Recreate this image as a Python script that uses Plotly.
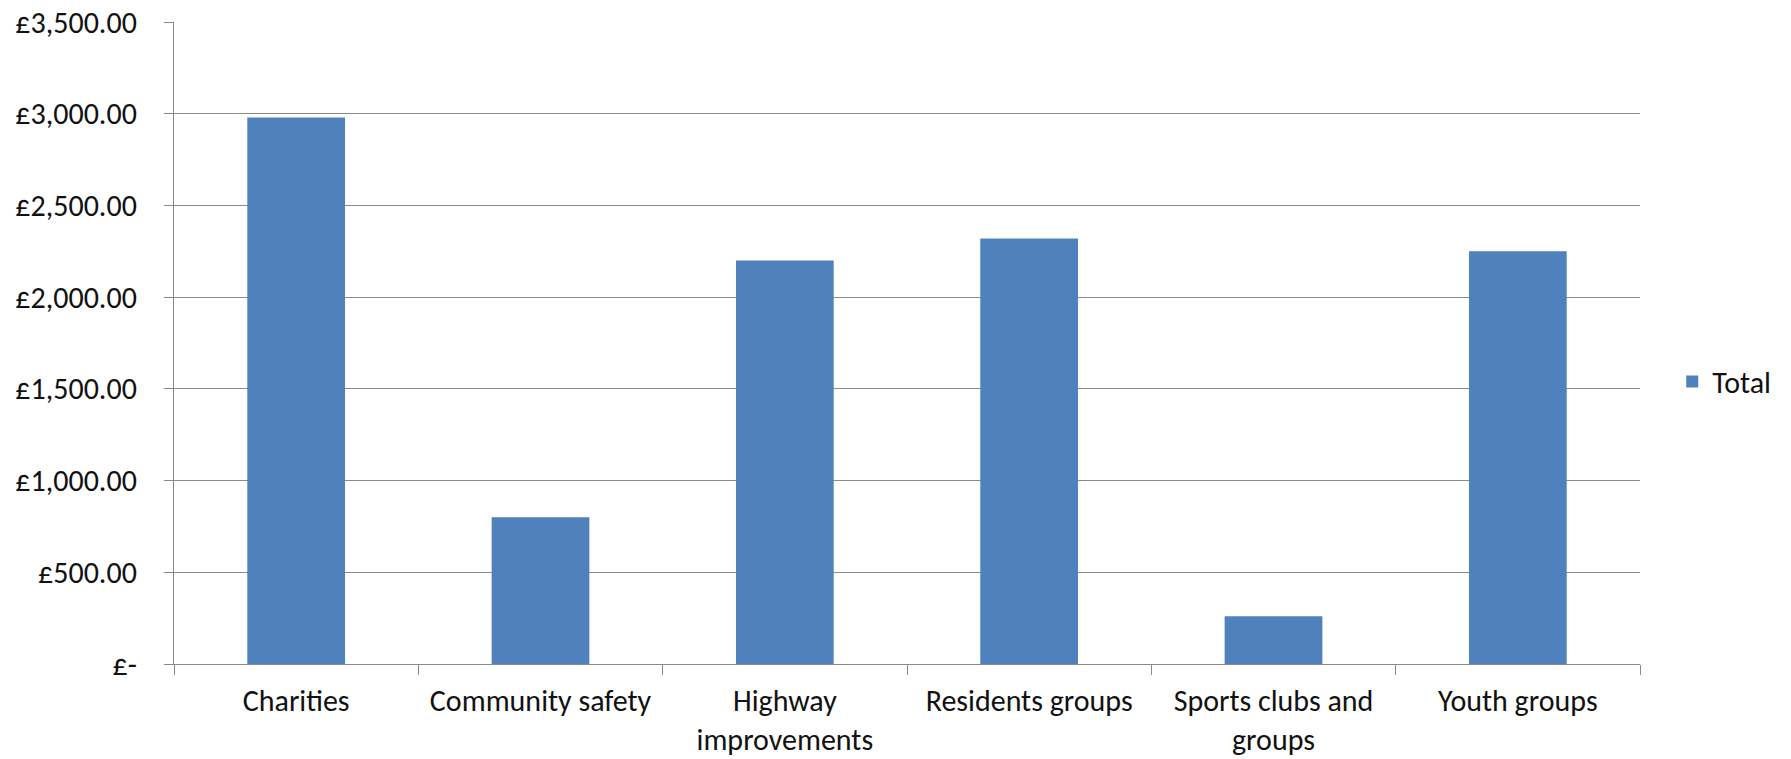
import plotly.graph_objects as go

categories = ["Charities", "Community safety", "Highway<br>improvements",
              "Residents groups", "Sports clubs and<br>groups", "Youth groups"]
totals = [2980, 800, 2200, 2320, 260, 2250]
series_name = "Total"

y_tick_vals = [0, 500, 1000, 1500, 2000, 2500, 3000, 3500]
y_tick_text = ["£-", "£500.00", "£1,000.00", "£1,500.00", "£2,000.00",
               "£2,500.00", "£3,000.00", "£3,500.00"]

FONT = "Carlito, Calibri, Lato, sans-serif"
GRID = "#8A8A8A"
TEXT = "#111111"

fig = go.Figure()
fig.add_trace(go.Bar(
    x=categories, y=totals, name=series_name,
    marker=dict(color="#4F81BD", line=dict(width=0)),
    showlegend=True,
))

fig.update_layout(
    width=1791, height=759,
    margin=dict(l=174, r=151, t=22, b=95, pad=0, autoexpand=False),
    paper_bgcolor="white", plot_bgcolor="white",
    font=dict(family=FONT, size=30, color=TEXT),
    bargap=0.6,
    showlegend=True,
    legend=dict(x=1.022, xanchor="left", y=0.44, yanchor="middle",
                font=dict(family=FONT, size=30, color=TEXT),
                itemwidth=30, bgcolor="rgba(0,0,0,0)"),
    xaxis=dict(
        type="category", showgrid=False, showline=True, linecolor=GRID, linewidth=1.3,
        ticks="outside", ticklen=10, tickcolor=GRID, tickwidth=1.3,
        tickson="boundaries", ticklabelstandoff=10,
        tickfont=dict(family=FONT, size=30, color=TEXT),
    ),
    yaxis=dict(
        range=[0, 3500], tickvals=y_tick_vals, ticktext=y_tick_text,
        showgrid=True, gridcolor=GRID, gridwidth=1.3, zeroline=False,
        showline=True, linecolor=GRID, linewidth=1.3,
        ticks="outside", ticklen=9, tickcolor=GRID, tickwidth=1.3,
        ticklabelstandoff=21,
        tickfont=dict(family=FONT, size=30, color=TEXT),
    ),
)

fig.write_html("out.html", config={"displayModeBar": False},
               post_script="document.body.style.margin='0';")
